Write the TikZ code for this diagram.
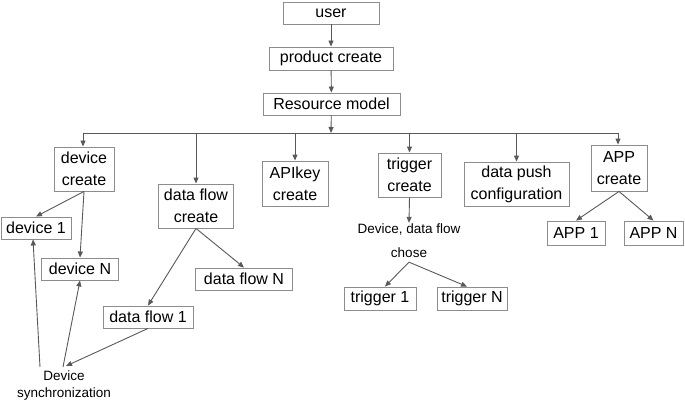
\documentclass[tikz,border=0pt]{standalone}
\usepackage{fontspec}
\setmainfont{Liberation Sans}
\usepackage{tikz}
\usetikzlibrary{arrows.meta}
\colorlet{boxcol}{black!45}
\colorlet{arrcol}{black!65}
\tikzset{>={Triangle[length=6pt,width=5pt]}}
\tikzset{block/.style = {draw=boxcol,line width=0.9pt,inner sep=0pt,align=center,
                         font=\fontsize{16}{22}\selectfont}}
\tikzset{plain/.style = {inner sep=1pt,align=center,font=\fontsize{13.5}{17}\selectfont}}
\tikzset{link/.style = {->,draw=arrcol,line width=0.9pt}}

\begin{document}
\begin{tikzpicture}[x=1pt,y=-1pt]
                \useasboundingbox (0,0) rectangle (685,401);
                \node[block,minimum width=96,minimum height=22] (user) at (331,13) {user};
                \node[block,minimum width=124,minimum height=23] (prod) at (331,58.5) {product create};
                \node[block,minimum width=137,minimum height=22] (res) at (331.5,104) {Resource model};
                \coordinate (bus) at (331,133);
                \coordinate (busL) at (83,133);
                \coordinate (busR) at (618,133);
                \node[block,minimum width=60,minimum height=44] (devc) at (84,169) {device\\create};
                \node[block,minimum width=75,minimum height=44] (flowc) at (196,206) {data flow\\create};
                \node[block,minimum width=66,minimum height=45] (apic) at (295,183.5) {APIkey\\create};
                \node[block,minimum width=63,minimum height=44] (trigc) at (409.5,175) {trigger\\create};
                \node[block,minimum width=105,minimum height=44] (push) at (516.5,184) {data push\\configuration};
                \node[block,minimum width=56,minimum height=46] (appc) at (619,168) {APP\\create};
                \node[block,minimum width=70,minimum height=22] (dev1) at (36,228) {device 1};
                \node[block,minimum width=77,minimum height=22] (devN) at (80,269) {device N};
                \node[block,minimum width=90,minimum height=22] (flow1) at (148,317) {data flow 1};
                \node[block,minimum width=97,minimum height=22] (flowN) at (244,279) {data flow N};
                \node[plain,font=\fontsize{13.5}{24}\selectfont] (chose) at (409,241) {Device, data flow\\chose};
                \node[block,minimum width=72,minimum height=23] (trig1) at (380,298.5) {trigger 1};
                \node[block,minimum width=70,minimum height=23] (trigN) at (472,298.5) {trigger N};
                \node[block,minimum width=58,minimum height=24] (app1) at (576,233) {APP 1};
                \node[block,minimum width=59,minimum height=24] (appN) at (653.5,233) {APP N};
                \node[plain] (sync) at (64,386) {Device\\synchronization};
                \draw[link] (user) -- (prod);
                \draw[link] (prod) -- (res);
                \draw[link] (res) -- (bus);
                \draw[draw=arrcol,line width=0.9pt] (busL) -- (busR);
                \draw[link] (busL) -- (devc.north -| busL);
                \draw[link] (flowc.north |- bus) -- (flowc.north);
                \draw[link] (apic.north |- bus) -- (apic.north);
                \draw[link] (trigc.north |- bus) -- (trigc.north);
                \draw[link] (push.north |- bus) -- (push.north);
                \draw[link] (busR) -- (appc.north -| busR);
                \draw[link] (devc.south) -- (dev1.north);
                \draw[link] (devc.south) -- (devN.north);
                \draw[link] (flowc.south) -- (flow1.north);
                \draw[link] (flowc.south) -- (flowN.north);
                \draw[link] (trigc.south) -- (chose.north);
                \draw[link] ([yshift=-3pt]chose.south) -- ([xshift=5pt]trig1.north);
                \draw[link] ([yshift=-3pt]chose.south) -- ([xshift=-5pt]trigN.north);
                \draw[link] (appc.south) -- (app1.north);
                \draw[link] (appc.south) -- (appN.north);
                \draw[link] ([xshift=-24pt,yshift=3pt]sync.north) -- ([xshift=-3pt]dev1.south);
                \draw[link] ([xshift=-1pt,yshift=3pt]sync.north) -- (devN.south);
                \draw[link] (flow1.south) -- ([xshift=2pt,yshift=4pt]sync.north);
            \end{tikzpicture}
\end{document}
